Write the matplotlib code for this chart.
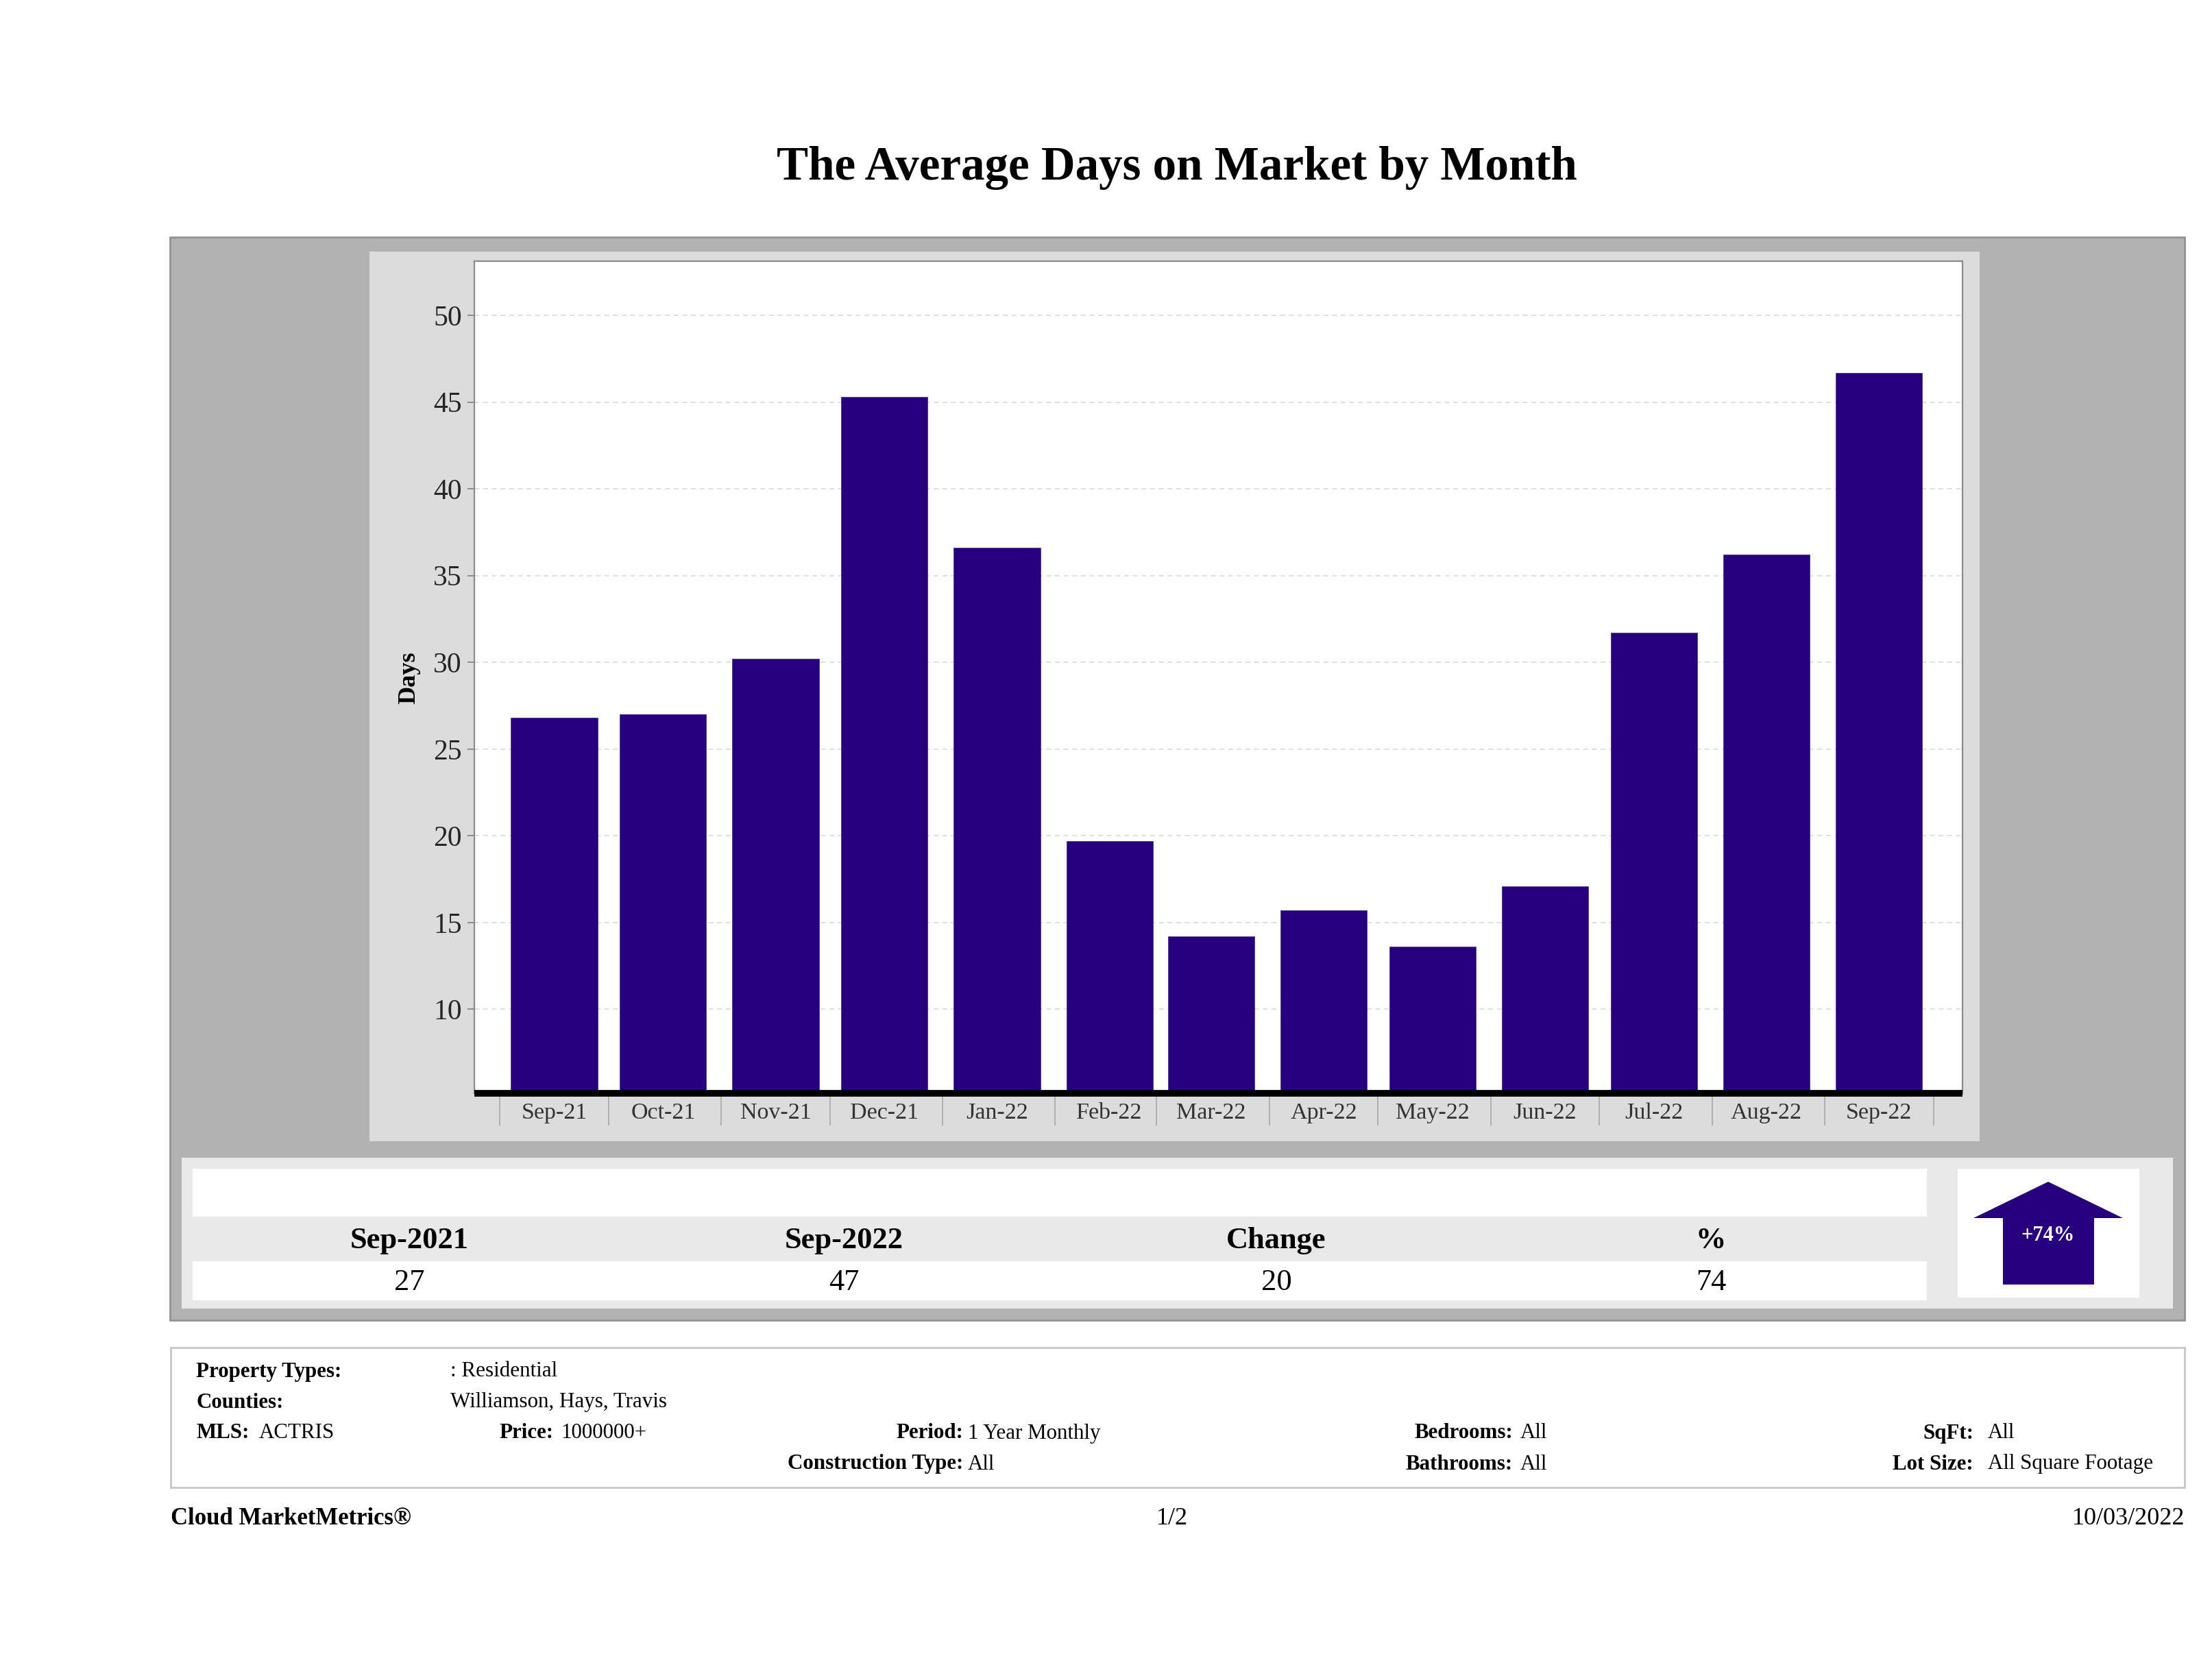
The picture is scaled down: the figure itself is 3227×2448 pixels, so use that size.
import datetime as dt
import matplotlib
matplotlib.use('Agg')
import matplotlib.pyplot as plt
from matplotlib.patches import Rectangle, Polygon

W, H = 3227, 2448
SERIF = 'Liberation Serif'
BAR = '#26007f'

# Chart data
months = ['Sep-21', 'Oct-21', 'Nov-21', 'Dec-21', 'Jan-22', 'Feb-22', 'Mar-22',
          'Apr-22', 'May-22', 'Jun-22', 'Jul-22', 'Aug-22', 'Sep-22']
month_starts = [dt.date(2021, 9, 1), dt.date(2021, 10, 1), dt.date(2021, 11, 1), dt.date(2021, 12, 1),
                dt.date(2022, 1, 1), dt.date(2022, 2, 1), dt.date(2022, 3, 1), dt.date(2022, 4, 1),
                dt.date(2022, 5, 1), dt.date(2022, 6, 1), dt.date(2022, 7, 1), dt.date(2022, 8, 1),
                dt.date(2022, 9, 1), dt.date(2022, 10, 1)]
days = [26.8, 27.0, 30.2, 45.3, 36.6, 19.7, 14.2, 15.7, 13.6, 17.1, 31.7, 36.2, 46.7]
y_ticks = [10, 15, 20, 25, 30, 35, 40, 45, 50]

# Summary table
summary_headers = ['Sep-2021', 'Sep-2022', 'Change', '%']
summary_values = ['27', '47', '20', '74']
summary_x = [597, 1231, 1862, 2496]

# Info block: (x, row y, text, bold, align)
info_rows = [
    (286, 2001, 'Property Types:', True, 'left'), (657, 2001, ': Residential', False, 'left'),
    (286, 2046, 'Counties:', True, 'left'), (657, 2046, 'Williamson, Hays, Travis', False, 'left'),
    (286, 2091, 'MLS:', True, 'left'), (378, 2091, 'ACTRIS', False, 'left'),
    (807, 2091, 'Price:', True, 'right'), (818, 2091, '1000000+', False, 'left'),
    (1405, 2091, 'Period:', True, 'right'), (1412, 2091, '1 Year Monthly', False, 'left'),
    (1405, 2136, 'Construction Type:', True, 'right'), (1412, 2136, 'All', False, 'left'),
    (2207, 2091, 'Bedrooms:', True, 'right'), (2218, 2091, 'All', False, 'left'),
    (2207, 2136, 'Bathrooms:', True, 'right'), (2218, 2136, 'All', False, 'left'),
    (2879, 2091, 'SqFt:', True, 'right'), (2900, 2091, 'All', False, 'left'),
    (2879, 2136, 'Lot Size:', True, 'right'), (2900, 2136, 'All Square Footage', False, 'left'),
]

fig = plt.figure(figsize=(W / 100, H / 100), dpi=100, facecolor='white')
plt.rcParams['font.family'] = [SERIF, 'DejaVu Serif']

# page layer, in image pixels
page = fig.add_axes([0, 0, 1, 1], zorder=0)
page.set_xlim(0, W)
page.set_ylim(H, 0)
page.axis('off')


def box(x0, y0, x1, y1, color, edge='none', lw=0):
    page.add_patch(Rectangle((x0, y0), x1 - x0, y1 - y0, facecolor=color, edgecolor=edge, linewidth=lw))


def label(x, y, s, size, bold=False, ha='center', color='black', **kw):
    page.text(x, y, s, fontsize=size, fontweight='bold' if bold else 'normal', ha=ha, va='center',
              color=color, family=[SERIF, 'DejaVu Serif'], **kw)


label(1717, 245, 'The Average Days on Market by Month', 49.7, bold=True)

box(248, 346, 3187, 1926, '#b2b2b2', '#929292', 2)
box(539, 367, 2888, 1665, '#dcdcdc')
box(265, 1689, 3170, 1909, '#e9e9e9')
box(281, 1705, 2811, 1775, 'white')
box(281, 1840, 2811, 1897, 'white')
box(2856, 1705, 3121, 1893, 'white')

# up arrow
page.add_patch(Polygon([(2988, 1724), (3097, 1777), (3055, 1777), (3055, 1874), (2922, 1874),
                        (2922, 1777), (2879, 1777)], closed=True, facecolor=BAR, edgecolor='none'))
label(2988, 1802, '+74%', 22, bold=True, color='white')

for x, head, val in zip(summary_x, summary_headers, summary_values):
    label(x, 1810, head, 32, bold=True)
    label(x, 1871, val, 32)

box(249, 1966, 3187, 2170, 'white', '#c8c8c8', 2)
for x, y, s, bold, ha in info_rows:
    label(x, y, s, 22.3, bold=bold, ha=ha)

label(249, 2215, 'Cloud MarketMetrics®', 25, bold=True, ha='left')
label(1710, 2215, '1/2', 26)
label(3187, 2215, '10/03/2022', 26, ha='right')
label(597, 989, 'Days', 26, bold=True, rotation=90)

# chart
px_left, px_right, px_top, px_bottom = 692, 2863, 381, 1595
ax = fig.add_axes([px_left / W, 1 - px_bottom / H, (px_right - px_left) / W, (px_bottom - px_top) / H],
                  zorder=1)
centers = [d + dt.timedelta(days=15) for d in month_starts[:-1]]
ax.grid(axis='y', color='#dddddd', linestyle=(0, (4, 3)), linewidth=1.3, zorder=0)
ax.bar(centers, days, width=23.8, color=BAR, edgecolor='#4a3a9a', linewidth=0.6, zorder=2)
ax.set_xlim(dt.date(2021, 8, 25), dt.date(2022, 10, 9))
ax.set_ylim(5.15, 53.13)
ax.set_yticks(y_ticks)
ax.set_xticks(month_starts)
ax.set_xticklabels([])
ax.set_xticks(centers, minor=True)
ax.set_xticklabels(months, minor=True, fontsize=24.5, color='#333333')
ax.tick_params(axis='x', which='major', length=34, width=1.2, color='#a8a8a8', pad=2)
ax.tick_params(axis='x', which='minor', length=0, pad=10)
ax.tick_params(axis='y', length=7, width=1.2, color='#808080', labelsize=30, labelcolor='#262626', pad=6)
for side in ['left', 'top', 'right']:
    ax.spines[side].set_color('#8c8c8c')
    ax.spines[side].set_linewidth(1.6)
ax.spines['bottom'].set_color('black')
ax.spines['bottom'].set_linewidth(7)
ax.spines['bottom'].set_capstyle('butt')

fig.savefig('out.png', dpi=100)
